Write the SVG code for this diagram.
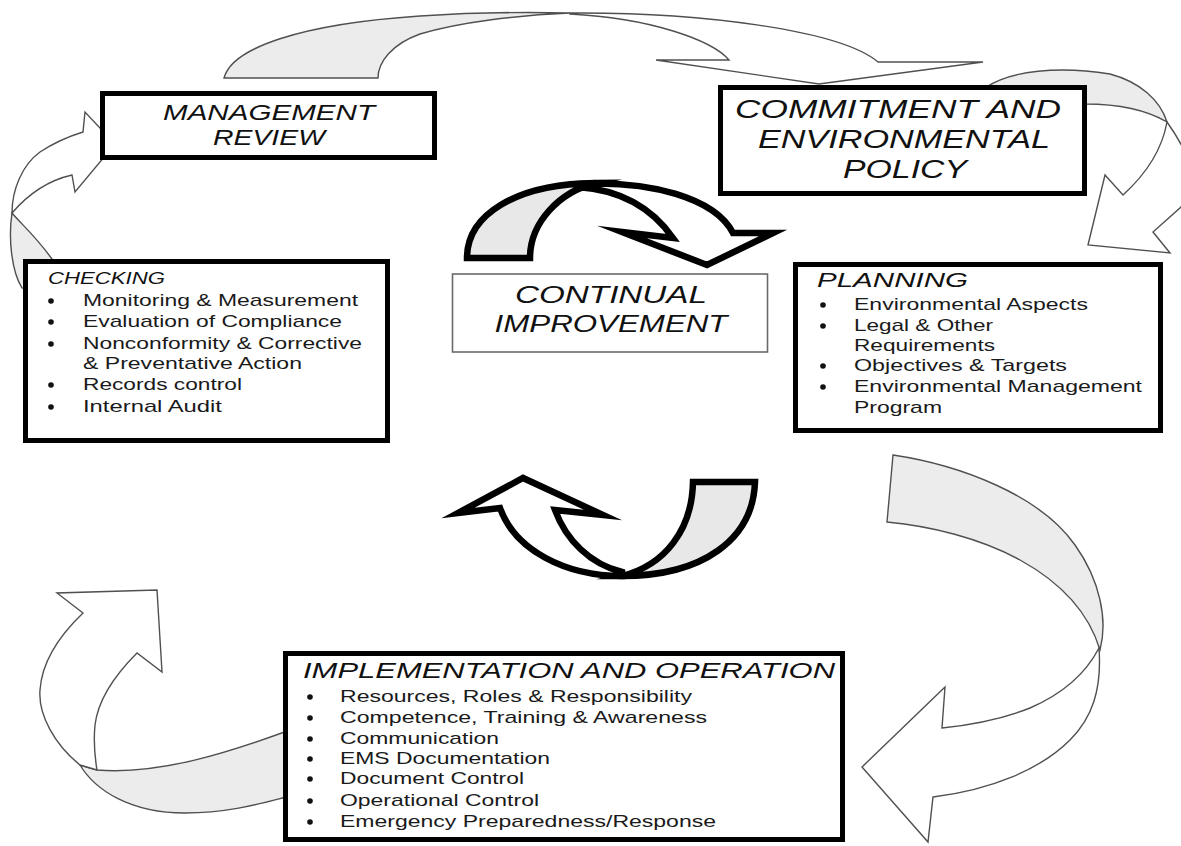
<svg xmlns="http://www.w3.org/2000/svg" width="1181" height="846" viewBox="0 0 1181 846">
<style>
.bg{fill:#fff}
.big{stroke:#505050;stroke-width:1.4;stroke-linejoin:miter}
.back{fill:#ececec}
.front{fill:#fff}
.ctr{stroke:#000;stroke-width:6.5;stroke-linejoin:miter;stroke-miterlimit:10}
.cback{fill:#e8e8e8}
.box{fill:#fff;stroke:#000;stroke-width:5}
.thin{fill:#fff;stroke:#6a6a6a;stroke-width:1.6}
.t{font-family:"Liberation Sans",Arial,sans-serif;fill:#111}
.ti{font-style:italic}
.it{font-size:17px;fill:#1a1a1a}
.bul{fill:#111}
</style>
<rect class="bg" x="0" y="0" width="1181" height="846"/>
<g id="connectors">
  <path class="big back" d="M224,78 C232,48 300,24 420,16 C480,12 530,12 570,13 C520,15 460,22 420,34 C392,44 378,62 378,78 Z"/>
  <path class="big front" d="M570,13 C700,12 840,30 878,62 L983,62 L819,84 L656,60 L729,60 C712,40 650,18 570,14 Z"/>
  <path class="big back" d="M985,88 C1010,70 1060,66 1110,74 C1140,82 1160,100 1167,122 C1150,112 1125,104 1085,104 L1040,100 Z"/>
  <path class="big front" d="M1167,122 C1180,140 1190,160 1195,180 L1181,207 L1153,232 L1170,253 L1088,245 L1105,175 L1123,195 C1145,175 1162,150 1167,122 Z"/>
  <path class="big back" d="M893,455 C960,465 1040,495 1075,545 C1100,580 1108,620 1100,650 C1088,610 1060,582 1020,560 C980,538 930,526 887,522 Z"/>
  <path class="big front" d="M1099,648 C1085,675 1060,695 1030,708 C1000,720 970,725 942,728 L945,687 L862,767 L928,842 L933,797 C990,790 1040,770 1070,740 C1092,718 1102,690 1099,648 Z"/>
  <path class="big back" d="M290,730 C230,752 160,775 97,770 L80,765 C95,790 130,813 185,813 C230,813 262,803 290,796 Z"/>
  <path class="big front" d="M80,765 C55,745 38,715 40,690 C42,660 60,635 83,613 L57,593 L157,590 L162,672 L137,653 C115,675 98,700 95,725 C93,745 95,758 97,770 Z"/>
  <path class="big back" d="M12,213 C22,225 42,242 58,268 L40,292 L22,288 C12,272 8,240 12,213 Z"/>
  <path class="big front" d="M12,213 C12,190 22,165 40,152 C55,142 70,136 83,132 L85,112 L115,144 L75,192 L72,175 C50,180 30,192 12,213 Z"/>
  <path class="ctr cback" d="M467,258 C467,215 515,184 595,183 C560,192 530,222 530,258 Z"/>
  <path class="ctr front" d="M578,184 C650,180 715,198 733,233 L773,233 L707,265 L622,232 L673,238 C652,208 622,190 578,187 Z"/>
  <path class="ctr cback" d="M693,482 L755,482 C753,540 702,576 622,576 C665,565 692,530 693,482 Z"/>
  <path class="ctr front" d="M622,576 C565,576 515,550 500,508 L458,513 L523,478 L603,515 L555,510 C566,540 590,564 622,572 Z"/>
</g>
<g id="management-review">
  <rect class="box" x="102.5" y="93.5" width="332" height="64"/>
  <text class="t ti" x="269" y="120" font-size="22" text-anchor="middle" textLength="212" lengthAdjust="spacingAndGlyphs">MANAGEMENT</text>
  <text class="t ti" x="269" y="145" font-size="22" text-anchor="middle" textLength="112" lengthAdjust="spacingAndGlyphs">REVIEW</text>
</g>
<g id="commitment">
  <rect class="box" x="720.5" y="87.5" width="364" height="106"/>
  <text class="t ti" x="735" y="118" font-size="25" textLength="326" lengthAdjust="spacingAndGlyphs">COMMITMENT AND</text>
  <text class="t ti" x="904" y="148" font-size="25" text-anchor="middle" textLength="292" lengthAdjust="spacingAndGlyphs">ENVIRONMENTAL</text>
  <text class="t ti" x="905" y="178" font-size="25" text-anchor="middle" textLength="124" lengthAdjust="spacingAndGlyphs">POLICY</text>
</g>
<g id="continual-improvement">
  <rect class="thin" x="452.5" y="274" width="315" height="78"/>
  <text class="t ti" x="611" y="303" font-size="24" text-anchor="middle" textLength="192" lengthAdjust="spacingAndGlyphs">CONTINUAL</text>
  <text class="t ti" x="611" y="332" font-size="24" text-anchor="middle" textLength="233" lengthAdjust="spacingAndGlyphs">IMPROVEMENT</text>
</g>
<g id="checking">
  <rect class="box" x="25.5" y="261.5" width="362" height="179"/>
  <text class="t ti" x="48" y="284" font-size="16" textLength="117" lengthAdjust="spacingAndGlyphs">CHECKING</text>
  <circle class="bul" cx="51" cy="301" r="2.8"/>
  <circle class="bul" cx="51" cy="322" r="2.8"/>
  <circle class="bul" cx="51" cy="344" r="2.8"/>
  <circle class="bul" cx="51" cy="385" r="2.8"/>
  <circle class="bul" cx="51" cy="407" r="2.8"/>
  <text class="t it" x="83" y="306" textLength="275" lengthAdjust="spacingAndGlyphs">Monitoring &amp; Measurement</text>
  <text class="t it" x="83" y="327" textLength="259" lengthAdjust="spacingAndGlyphs">Evaluation of Compliance</text>
  <text class="t it" x="83" y="349" textLength="279" lengthAdjust="spacingAndGlyphs">Nonconformity &amp; Corrective</text>
  <text class="t it" x="83" y="369" textLength="219" lengthAdjust="spacingAndGlyphs">&amp; Preventative Action</text>
  <text class="t it" x="83" y="390" textLength="159" lengthAdjust="spacingAndGlyphs">Records control</text>
  <text class="t it" x="83" y="412" textLength="139" lengthAdjust="spacingAndGlyphs">Internal Audit</text>
</g>
<g id="planning">
  <rect class="box" x="795.5" y="264.5" width="365" height="166"/>
  <text class="t ti" x="817" y="287" font-size="20.5" textLength="151" lengthAdjust="spacingAndGlyphs">PLANNING</text>
  <circle class="bul" cx="823" cy="305" r="2.8"/>
  <circle class="bul" cx="823" cy="326" r="2.8"/>
  <circle class="bul" cx="823" cy="366" r="2.8"/>
  <circle class="bul" cx="823" cy="387" r="2.8"/>
  <text class="t it" x="854" y="310" textLength="234" lengthAdjust="spacingAndGlyphs">Environmental Aspects</text>
  <text class="t it" x="854" y="331" textLength="139" lengthAdjust="spacingAndGlyphs">Legal &amp; Other</text>
  <text class="t it" x="854" y="351" textLength="141" lengthAdjust="spacingAndGlyphs">Requirements</text>
  <text class="t it" x="854" y="371" textLength="213" lengthAdjust="spacingAndGlyphs">Objectives &amp; Targets</text>
  <text class="t it" x="854" y="392" textLength="288" lengthAdjust="spacingAndGlyphs">Environmental Management</text>
  <text class="t it" x="854" y="413" textLength="88" lengthAdjust="spacingAndGlyphs">Program</text>
</g>
<g id="implementation">
  <rect class="box" x="285.5" y="653.5" width="557" height="186"/>
  <text class="t ti" x="303" y="678" font-size="22" textLength="532" lengthAdjust="spacingAndGlyphs">IMPLEMENTATION AND OPERATION</text>
  <circle class="bul" cx="310" cy="697" r="2.8"/>
  <circle class="bul" cx="310" cy="718" r="2.8"/>
  <circle class="bul" cx="310" cy="739" r="2.8"/>
  <circle class="bul" cx="310" cy="759" r="2.8"/>
  <circle class="bul" cx="310" cy="779" r="2.8"/>
  <circle class="bul" cx="310" cy="801" r="2.8"/>
  <circle class="bul" cx="310" cy="822" r="2.8"/>
  <text class="t it" x="340" y="702" textLength="352" lengthAdjust="spacingAndGlyphs">Resources, Roles &amp; Responsibility</text>
  <text class="t it" x="340" y="723" textLength="367" lengthAdjust="spacingAndGlyphs">Competence, Training &amp; Awareness</text>
  <text class="t it" x="340" y="744" textLength="159" lengthAdjust="spacingAndGlyphs">Communication</text>
  <text class="t it" x="340" y="764" textLength="210" lengthAdjust="spacingAndGlyphs">EMS Documentation</text>
  <text class="t it" x="340" y="784" textLength="184" lengthAdjust="spacingAndGlyphs">Document Control</text>
  <text class="t it" x="340" y="806" textLength="199" lengthAdjust="spacingAndGlyphs">Operational Control</text>
  <text class="t it" x="340" y="827" textLength="376" lengthAdjust="spacingAndGlyphs">Emergency Preparedness/Response</text>
</g>
</svg>
